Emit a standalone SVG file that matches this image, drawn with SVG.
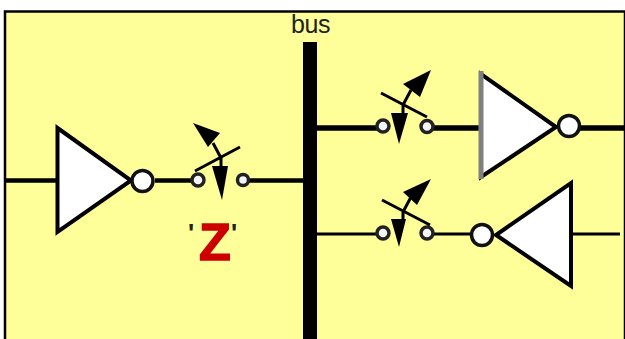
<svg xmlns="http://www.w3.org/2000/svg" width="625" height="339" viewBox="0 0 625 339">
<style>
.w{stroke:#000;fill:none;stroke-linecap:butt}
.tri{fill:#fff;stroke:#000;stroke-width:4;stroke-linejoin:miter}
.bub{fill:#fff;stroke:#111;stroke-width:3.500}
.sm{fill:#f4f4f4;stroke:#222;stroke-width:3.500}
.head{fill:#000;stroke:none}
.lev{stroke:#000;stroke-width:3;fill:none}
text{font-family:"Liberation Sans",Arial,sans-serif}
</style>
<rect width="625" height="339" fill="#fff"/>
<rect x="5" y="11.500" width="620" height="330" fill="#ffff99" stroke="#000" stroke-width="2.500"/>
<g id="connectors">
<path class="w" stroke-width="4.500" d="M6 180.500H57M155 180.500H195M248 180.500H303"/>
<path class="w" stroke-width="5.500" d="M317 128H378M433 128H481M580 128H625"/>
<path class="w" stroke-width="3" d="M317 234H378M433 234H472M568 234H620"/>
</g>
<g id="bus"><rect x="303" y="42" width="14" height="297" fill="#000"/><text x="291" y="33" font-size="25" letter-spacing="-.4" fill="#222">bus</text></g>
<g id="inverter1">
<path class="tri" d="M57.500 128V232L131 180.500Z"/>
<circle class="bub" cx="142.500" cy="181" r="10.500"/>
</g>
<g id="switch1">
<circle class="sm" cx="198" cy="180" r="6"/><circle class="sm" cx="243" cy="180" r="5.500"/>
<path class="lev" d="M195 171L240 147M221 158L213 143M221 158V170"/>
<path class="head" d="M193 123L220 133L208 147Z"/>
<path class="head" d="M222 200L212 166H228Z"/>
</g>
<g id="inverter2">
<path class="tri" d="M481 74V177L556 127Z"/>
<path d="M481 71V179" stroke="#808080" stroke-width="5" fill="none"/>
<circle class="bub" cx="569" cy="126" r="10.500"/>
</g>
<g id="switch2">
<circle class="sm" cx="383" cy="126" r="6"/><circle class="sm" cx="427" cy="126.500" r="6"/>
<path class="lev" d="M381 93L427 117M403 105L411 90M403 105V115"/>
<path class="head" d="M431 70L420 97L403 84Z"/>
<path class="head" d="M399 144L391 113H408Z"/>
</g>
<g id="inverter3">
<path class="tri" d="M571 183V286L496 235Z"/>
<circle class="bub" cx="482" cy="235" r="10.500"/>
</g>
<g id="switch3">
<circle class="sm" cx="383" cy="233" r="6"/><circle class="sm" cx="427" cy="233" r="6"/>
<path class="lev" d="M382 200L430 225M403 212L411 197M403 212V222"/>
<path class="head" d="M431 179L417 205L403 192Z"/>
<path class="head" d="M399 247L391 219H406Z"/>
</g>
<g id="label-z"><text y="260" font-size="52" font-weight="bold" fill="#cc0000" stroke="#cc0000" stroke-width="1.500"><tspan x="188" y="242" font-size="26" fill="#222" stroke="none">'</tspan><tspan x="199" y="260">Z</tspan><tspan x="231" y="242" font-size="26" fill="#222" stroke="none">'</tspan></text></g>
</svg>
